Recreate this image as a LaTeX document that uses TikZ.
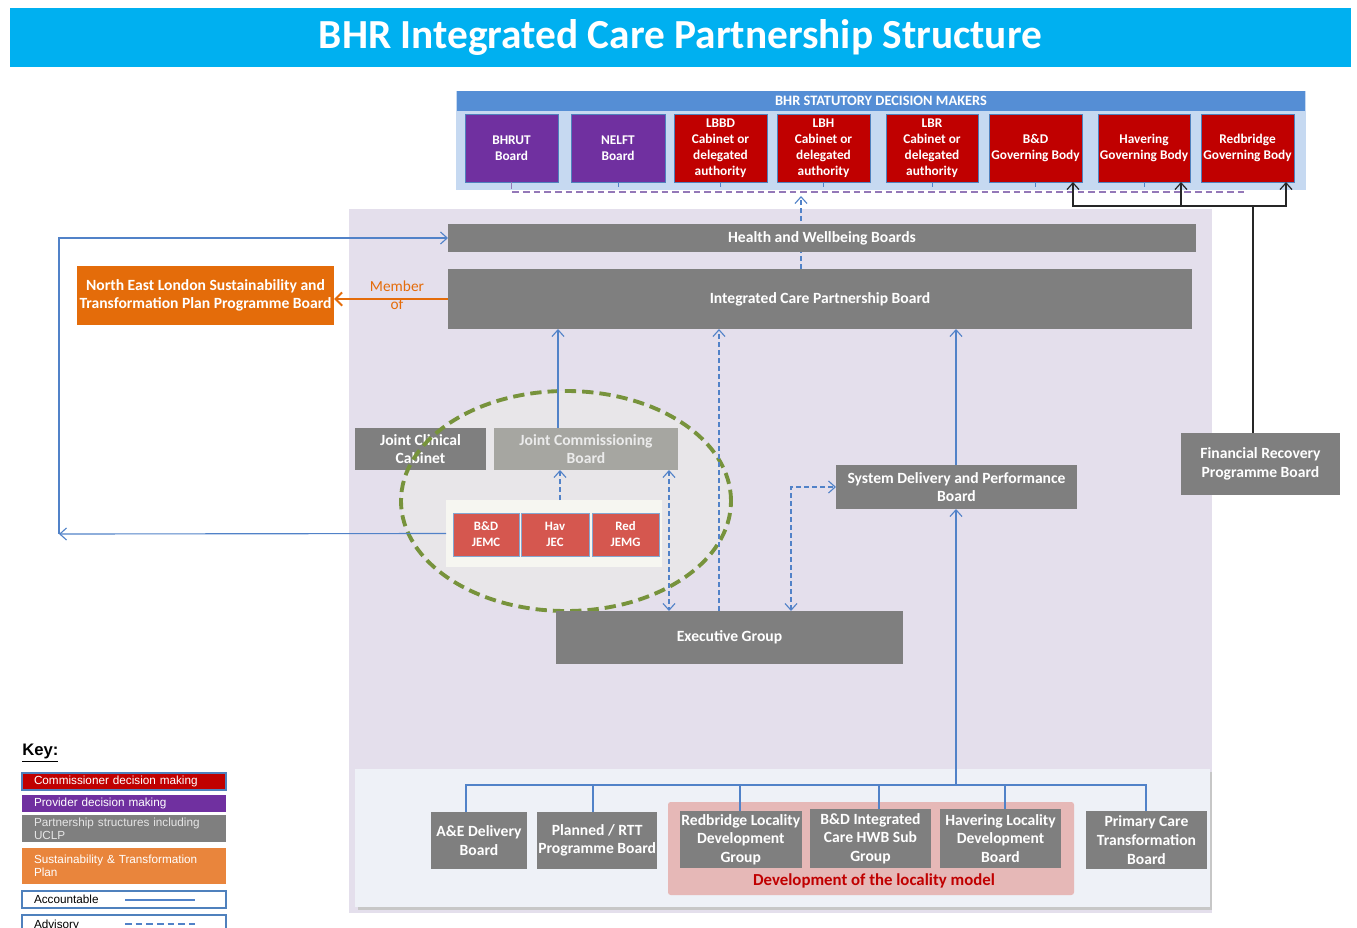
\documentclass[tikz,border=0pt]{standalone}
\usepackage{fontspec}
\setmainfont{Carlito}
\newfontfamily\arialf{Liberation Sans}
\usetikzlibrary{arrows.meta}
\pgfdeclarelayer{back}
\pgfdeclarelayer{mid}
\pgfsetlayers{back,mid,main}
\definecolor{titlecyan}{HTML}{00B0F0}
\definecolor{stathead}{HTML}{558ED5}
\definecolor{statbg}{HTML}{C6D9F1}
\definecolor{provpurple}{HTML}{7030A0}
\definecolor{comred}{HTML}{C00000}
\definecolor{topedge}{HTML}{4F81BD}
\definecolor{boxgray}{HTML}{7F7F7F}
\definecolor{jcbgray}{HTML}{A6A6A1}
\definecolor{lav}{HTML}{E4DFEC}
\definecolor{ellfill}{HTML}{E8E6E9}
\definecolor{ellgreen}{HTML}{77933C}
\definecolor{jpanelc}{HTML}{F6F6F1}
\definecolor{jemcred}{HTML}{D5574F}
\definecolor{linkblue}{HTML}{5182C8}
\definecolor{purpdash}{HTML}{9478B8}
\definecolor{stporange}{HTML}{E46C0A}
\definecolor{keyorange}{HTML}{E9853C}
\definecolor{botpanel}{HTML}{EEF1F7}
\definecolor{pinkloc}{HTML}{E6B8B7}
\begin{document}
\begin{tikzpicture}[x=0.75pt,y=-0.75pt,
  boxat/.style n args={4}{anchor=north west,at={(#1,#2)},minimum width={(#3-#1)*0.75pt},minimum height={(#4-#2)*0.75pt},inner sep=1pt,outer sep=0pt},
  gbox/.style={fill=boxgray,text=white,font=\fontsize{11.7}{14}\selectfont\bfseries,align=center},
  topbox/.style={draw=topedge,line width=0.6pt,text=white,font=\fontsize{10}{12}\selectfont\bfseries,align=center},
  purp/.style={topbox,fill=provpurple},
  redb/.style={topbox,fill=comred},
  jbox/.style={fill=jemcred,draw=topedge!70,line width=0.6pt,text=white,font=\fontsize{9.6}{12}\selectfont\bfseries,align=center},
  accline/.style={draw=linkblue,line width=0.85pt},
  advline/.style={accline,dash pattern=on 3.5pt off 2.5pt},
  blkline/.style={draw=black!85,line width=0.9pt},
  arrowend/.style={-{Straight Barb[length=5pt,width=9pt]}},
  arrowboth/.style={{Straight Barb[length=5pt,width=9pt]}-{Straight Barb[length=5pt,width=9pt]}},
  keyb/.style={anchor=north west,text width=180*0.75pt,inner xsep=12*0.75pt,inner ysep=0pt,align=left,font=\arialf\fontsize{8.8}{9.8}\selectfont,outer sep=0pt}
]
\useasboundingbox (0,0) rectangle (1357,928);

% ---------- background panels ----------
\begin{pgfonlayer}{back}
\fill[lav] (349,209) rectangle (1212,913);
\fill[statbg] (456,91) rectangle (1306,190);
\fill[ellfill] (566,501) ellipse [x radius=123.75pt, y radius=82.5pt];
\fill[black!22] (358,772) rectangle (1212,910);
\fill[botpanel] (355,769) rectangle (1210,907);
\fill[pinkloc, rounded corners=2pt] (668,802) rectangle (1074,895);
\end{pgfonlayer}

% ---------- title ----------
\node[boxat={10}{8}{1351}{67},fill=titlecyan,text=white,font=\fontsize{31}{34}\selectfont\bfseries] (title) {BHR Integrated Care Partnership Structure};

% ---------- statutory decision makers ----------
\node[boxat={457}{91}{1305}{111},fill=stathead,text=white,font=\fontsize{10.8}{12}\selectfont\bfseries] (sthead) {BHR STATUTORY DECISION MAKERS};
\node[purp,boxat={465}{114}{558}{182}] (bhrut) {BHRUT\\Board};
\node[purp,boxat={571}{114}{665}{182}] (nelft) {NELFT\\Board};
\node[redb,boxat={674}{114}{767}{182}] (lbbd) {LBBD\\Cabinet or\\delegated\\authority};
\node[redb,boxat={777}{114}{870}{182}] (lbh) {LBH\\Cabinet or\\delegated\\authority};
\node[redb,boxat={886}{114}{978}{182}] (lbr) {LBR\\Cabinet or\\delegated\\authority};
\node[redb,boxat={989}{114}{1082}{182}] (bdgb) {B\&D\\Governing Body};
\node[redb,boxat={1098}{114}{1190}{182}] (hgb) {Havering\\Governing Body};
\node[redb,boxat={1201}{114}{1294}{182}] (rgb) {Redbridge\\Governing Body};

\draw[purpdash,line width=0.9pt,dash pattern=on 5pt off 3pt] (bhrut.south) -- ++(0,10) -| ([xshift=-3pt,yshift=-4.5pt]rgb.south);
\foreach \n in {nelft,lbbd,lbh,lbr,bdgb,hgb}
  \draw[linkblue,line width=0.5pt] (\n.south) -- ++(0,5);

% ---------- main boards ----------
\node[gbox,boxat={448}{224}{1196}{252}] (hwb) {Health and Wellbeing Boards};
\node[gbox,boxat={448}{269}{1192}{329}] (icp) {Integrated Care Partnership Board};
\node[gbox,fill=stporange,boxat={77}{266}{334}{325}] (stp) {North East London Sustainability and\\Transformation Plan Programme Board};
\node[font=\fontsize{11.5}{13.5}\selectfont,text=stporange,align=center] (memb) at (397,295) {Member\\of};

\node[gbox,boxat={355}{428}{486}{470}] (jcc) {Joint Clinical\\Cabinet};
\node[gbox,fill=jcbgray,text=white!92!black,boxat={494}{428}{678}{470}] (jcb) {Joint Commissioning\\Board};
\node[fill=jpanelc,boxat={446}{500}{662}{567}] (jpanel) {};
\node[jbox,boxat={453}{513}{519}{556}] (jemc) {B\&D\\JEMC};
\node[jbox,boxat={521}{513}{589}{556}] (jec) {Hav\\JEC};
\node[jbox,boxat={592}{513}{659}{556}] (jemg) {Red\\JEMG};
\draw[ellgreen,line width=2.9pt,dash pattern=on 8.5pt off 4.5pt] (566,501) ellipse [x radius=123.75pt, y radius=82.5pt];

\node[gbox,boxat={836}{465}{1077}{509}] (sdp) {System Delivery and Performance\\Board};
\node[gbox,boxat={556}{611}{903}{664}] (exec) {Executive Group};
\node[gbox,boxat={1181}{433}{1340}{495}] (frpb) {Financial Recovery\\Programme Board};

% ---------- bottom delivery boards ----------
\node[gbox,boxat={431}{812}{527}{869}] (ae) {A\&E Delivery\\Board};
\node[gbox,boxat={537}{812}{656}{869}] (prb) {Planned / RTT\\Programme Board};
\node[gbox,boxat={680}{811}{800}{868}] (rld) {Redbridge Locality\\Development\\Group};
\node[gbox,boxat={810}{809}{931}{868}] (bdi) {B\&D Integrated\\Care HWB Sub\\Group};
\node[gbox,boxat={940}{809}{1061}{868}] (hld) {Havering Locality\\Development\\Board};
\node[gbox,boxat={1086}{811}{1207}{869}] (pct) {Primary Care\\Transformation\\Board};
\node[text=comred,font=\fontsize{12.6}{14}\selectfont\bfseries] (devloc) at (874,881) {Development of the locality model};

% ---------- helper coordinates ----------
\coordinate (lc1) at (59,534);
\coordinate (stat) at (801,196);
\coordinate (jn) at (1253,206);
\coordinate (bt) at (956,785);
\coordinate (x558) at (558,0);
\coordinate (x560) at (560,0);
\coordinate (x669) at (669,0);
\coordinate (x719) at (719,0);
\coordinate (x791) at (791,0);
\coordinate (x801) at (801,0);
\coordinate (x956) at (956,0);
\coordinate (x1073) at (1073,0);
\coordinate (x1181) at (1181,0);
\coordinate (x1286) at (1286,0);
\coordinate (x466) at (466,0);
\coordinate (x593) at (593,0);
\coordinate (x740) at (740,0);
\coordinate (x879) at (879,0);
\coordinate (x1005) at (1005,0);
\coordinate (x1146) at (1146,0);

% ---------- connectors ----------
\begin{pgfonlayer}{mid}
\draw[advline,arrowend] (icp.north -| x801) -- (stat);
\end{pgfonlayer}

\draw[stporange,line width=1.5pt,-{Straight Barb[length=5pt,width=10pt]}] (icp.west) -- (icp.west -| stp.east);

\draw[accline,arrowend] (jpanel.west) -- (lc1);
\draw[accline,arrowend] (lc1) |- (hwb.west);

\draw[accline,arrowend] (jcb.north -| x558) -- (icp.south -| x558);
\draw[advline,arrowend] (jpanel.north -| x560) -- (jcb.south -| x560);
\draw[advline,arrowboth] (jcb.south -| x669) -- (exec.north -| x669);
\draw[advline,arrowend] (exec.north -| x719) -- (icp.south -| x719);
\draw[advline,arrowboth] (exec.north -| x791) |- (sdp.west);
\draw[accline,arrowend] (sdp.north -| x956) -- (icp.south -| x956);
\draw[accline,arrowend] (bt) -- (sdp.south -| x956);

\draw[accline] (ae.north -| x466) |- (bt);
\draw[accline] (prb.north -| x593) |- (bt);
\draw[accline] (rld.north -| x740) |- (bt);
\draw[accline] (bdi.north -| x879) |- (bt);
\draw[accline] (hld.north -| x1005) |- (bt);
\draw[accline] (pct.north -| x1146) |- (bt);

\draw[blkline] (frpb.north -| jn) -- (jn);
\draw[blkline,arrowend] (jn) -| (bdgb.south -| x1073);
\draw[blkline,arrowend] (jn) -| (hgb.south -| x1181);
\draw[blkline,arrowend] (jn) -| (rgb.south -| x1286);

% ---------- key ----------
\node[anchor=west,inner sep=0pt,font=\arialf\fontsize{12.5}{14}\selectfont\bfseries] (keyt) at (22,753) {\underline{Key:}};
\node[keyb,fill=comred,draw=topedge,line width=0.8pt,text=white,minimum height={17*0.75pt},at={(22,773)}] (k1) {Commissioner decision making};
\node[keyb,fill=provpurple,text=white,minimum height={17*0.75pt},at={(22,795)}] (k2) {Provider decision making};
\node[keyb,fill=boxgray,text=white!90!black,minimum height={27*0.75pt},at={(22,815)}] (k3) {Partnership structures including\\UCLP};
\node[keyb,fill=keyorange,text=white,minimum height={36*0.75pt},at={(22,848)}] (k4) {Sustainability \& Transformation\\Plan};
\node[keyb,fill=white,draw=topedge,line width=0.9pt,text=black,minimum height={17*0.75pt},at={(22,891)}] (k5) {Accountable};
\node[keyb,fill=white,draw=topedge,line width=0.9pt,text=black,minimum height={20*0.75pt},at={(22,915)}] (k6) {Advisory};
\draw[accline] (125,900) -- (195,900);
\draw[accline,dash pattern=on 5pt off 3pt] (125,924) -- (195,924);
\end{tikzpicture}
\end{document}
